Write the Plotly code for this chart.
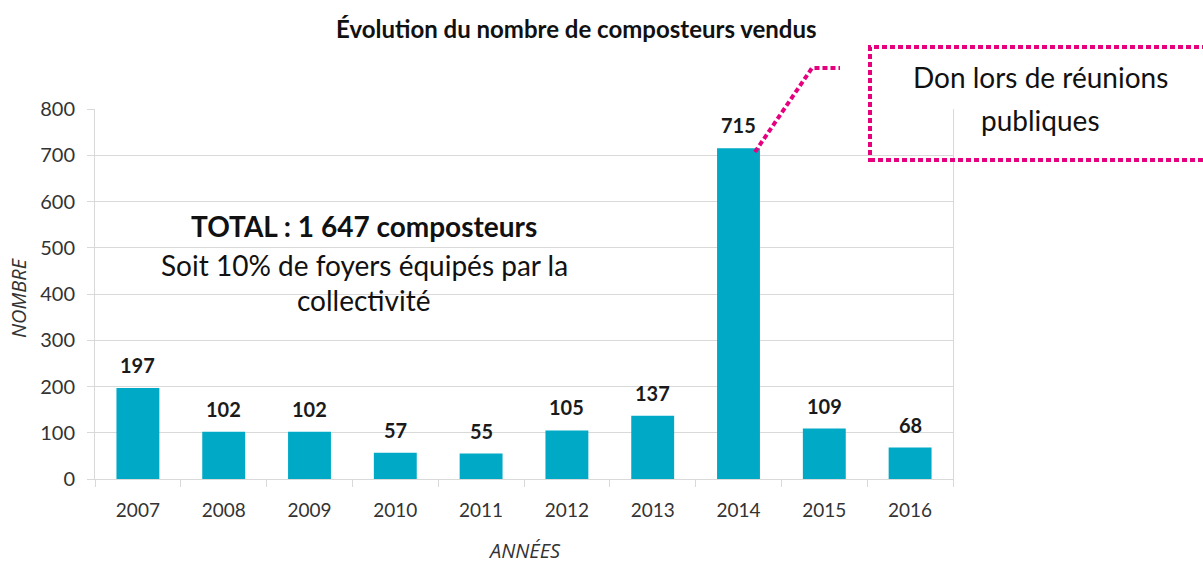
import plotly.graph_objects as go

years = ["2007", "2008", "2009", "2010", "2011", "2012", "2013", "2014", "2015", "2016"]
values = [197, 102, 102, 57, 55, 105, 137, 715, 109, 68]
y_ticks = [0, 100, 200, 300, 400, 500, 600, 700, 800]

title_text = "Évolution du nombre de composteurs vendus"
total_text = "TOTAL : 1 647 composteurs"
sub_lines = ["Soit 10% de foyers équipés par la", "collectivité"]
callout_lines = ["Don lors de réunions", "publiques"]

W, H = 1203, 565
L, R, T, B = 95, 953, 109, 479
FONT = "Lato"
BAR = "#00AAC6"
GRID = "#D9D9D9"
PINK = "#E6007E"


def px(x):
    return (x - L) / (R - L)


def py(y):
    return (B - y) / (B - T)


idx = list(range(len(years)))

fig = go.Figure()
fig.add_trace(go.Bar(x=idx, y=values, marker=dict(color=BAR, line=dict(width=0)),
                     width=0.5, hovertext=years, hoverinfo="text+y"))


def ann(x, y, text, size, color="#111111", family=FONT, **kw):
    d = dict(x=px(x), y=py(y), xref="paper", yref="paper", text=text, showarrow=False,
             xanchor="center", yanchor="middle", font=dict(family=family, size=size, color=color))
    d.update(kw)
    return d


annotations = []
for i, v in zip(idx, values):
    annotations.append(dict(x=i, y=v, xref="x", yref="y", text="<b>%d</b>" % v,
                            showarrow=False, xanchor="center", yanchor="middle", yshift=23,
                            font=dict(family=FONT, size=20, color="#1a1a1a")))

annotations += [
    ann(576, 28, "<b>" + title_text + "</b>", 24),
    ann(364, 226, "<b>" + total_text + "</b>", 28),
    ann(364, 265, sub_lines[0], 28),
    ann(364, 300, sub_lines[1], 28),
    ann(1040, 77, callout_lines[0], 28),
    ann(1040, 120, callout_lines[1], 28),
    ann(18, 298, "<i>NOMBRE</i>", 20, color="#333333", family="Open Sans", textangle=-90),
    ann(524, 550, "<i>ANNÉES</i>", 20, color="#333333", family="Open Sans"),
]

shapes = [
    dict(type="rect", xref="paper", yref="paper", x0=px(870), x1=px(1210), y0=py(160), y1=py(47),
         line=dict(color=PINK, width=4, dash="5px,3px"), fillcolor="rgba(0,0,0,0)", layer="above"),
    dict(type="path", xref="paper", yref="paper",
         path="M %f,%f L %f,%f L %f,%f" % (px(755), py(152), px(812), py(68), px(840), py(68)),
         line=dict(color=PINK, width=4, dash="5px,3px"), layer="above"),
]

fig.update_layout(
    width=W, height=H,
    margin=dict(l=L, r=W - R, t=T, b=H - B, pad=0),
    paper_bgcolor="white", plot_bgcolor="white",
    showlegend=False,
    xaxis=dict(range=[-0.5, len(years) - 0.5], tickvals=idx, ticktext=years, showgrid=False,
               showline=True, linecolor=GRID, linewidth=1, mirror=False,
               ticks="", tickfont=dict(family=FONT, size=19, color="#333333"),
               ticklabelstandoff=14,
               minor=dict(tickvals=[i - 0.5 for i in idx] + [len(years) - 0.5], ticks="outside",
                          ticklen=7, tickcolor=GRID, showgrid=False),
               fixedrange=True),
    yaxis=dict(range=[0, 800], tickvals=y_ticks, showgrid=True, gridcolor=GRID, gridwidth=1,
               showline=True, linecolor=GRID, linewidth=1, mirror=True, ticks="outside", ticklen=7,
               tickcolor=GRID, zeroline=False, tickfont=dict(family=FONT, size=20, color="#333333"),
               ticklabelstandoff=8, fixedrange=True),
    annotations=annotations, shapes=shapes,
)

fig.write_html("out.html", config={"displayModeBar": False},
               post_script="document.body.style.margin='0';document.body.style.padding='0';")
